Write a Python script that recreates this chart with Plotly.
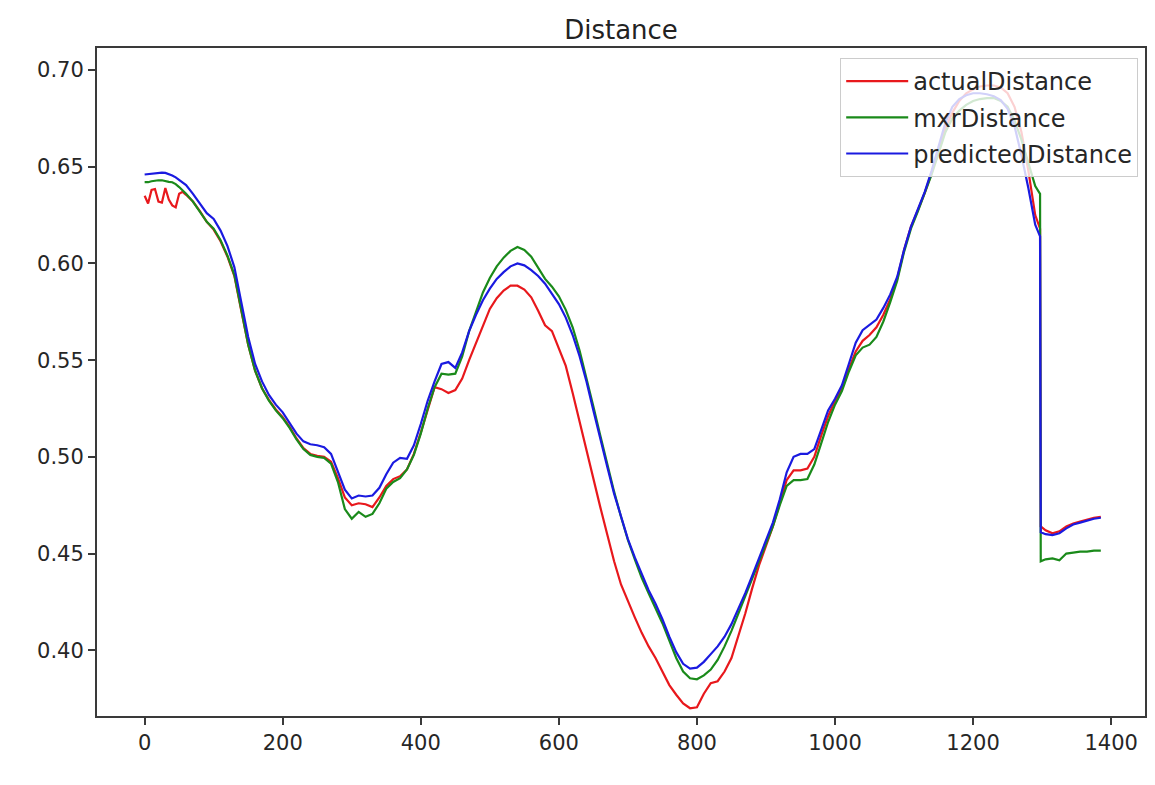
import plotly.graph_objects as go

# sample positions (frame index)
x_start = [0, 5, 10, 15, 20, 25, 30, 35, 40, 45, 50, 55, 60]
x_mid = list(range(70, 1300, 10))
x_drop = [1297, 1298]
x_end = list(range(1305, 1390, 10))
x_vals = x_start + x_mid + x_drop + x_end

actual_distance = [
    0.6350, 0.6310, 0.6380, 0.6385, 0.6320, 0.6315, 0.6390, 0.6330, 0.6300, 0.6290, 0.6360, 0.6370, 0.6355,
    0.6320, 0.6270, 0.6215, 0.6175, 0.6115, 0.6035, 0.5935, 0.5755, 0.5580, 0.5445, 0.5355, 0.5295, 0.5245,
    0.5205, 0.5155, 0.5095, 0.5045, 0.5015, 0.5005, 0.5000, 0.4975, 0.4890, 0.4790,
    0.4750, 0.4760, 0.4755, 0.4740, 0.4790, 0.4850, 0.4885, 0.4900, 0.4935, 0.5015,
    0.5125, 0.5245, 0.5360, 0.5350, 0.5330, 0.5345, 0.5405, 0.5500, 0.5590, 0.5680,
    0.5765, 0.5820, 0.5860, 0.5885, 0.5885, 0.5865, 0.5825, 0.5755, 0.5680, 0.5650,
    0.5560, 0.5470, 0.5330, 0.5180, 0.5030, 0.4880, 0.4740, 0.4600, 0.4460, 0.4340,
    0.4250, 0.4170, 0.4090, 0.4020, 0.3960, 0.3890, 0.3820, 0.3770, 0.3725, 0.3700,
    0.3705, 0.3775, 0.3830, 0.3840, 0.3890, 0.3960, 0.4070, 0.4190, 0.4320, 0.4440,
    0.4540, 0.4640, 0.4760, 0.4880, 0.4930, 0.4930, 0.4940, 0.5000, 0.5110, 0.5210,
    0.5290, 0.5355, 0.5455, 0.5545, 0.5600, 0.5630, 0.5670, 0.5735, 0.5815, 0.5920,
    0.6070, 0.6190, 0.6275, 0.6365, 0.6470, 0.6580, 0.6700, 0.6780, 0.6840, 0.6880,
    0.6900, 0.6915, 0.6920, 0.6920, 0.6910, 0.6880, 0.6810, 0.6680, 0.6480, 0.6250,
    0.6180, 0.4640,
    0.4620, 0.4605, 0.4615, 0.4640, 0.4655, 0.4665, 0.4675, 0.4685, 0.4690,
]

mxr_distance = [
    0.6420, 0.6420, 0.6425, 0.6428, 0.6430, 0.6430, 0.6425, 0.6422, 0.6420, 0.6410, 0.6395, 0.6380, 0.6360,
    0.6320, 0.6270, 0.6215, 0.6180, 0.6120, 0.6040, 0.5940, 0.5760, 0.5580, 0.5445, 0.5355, 0.5290, 0.5240,
    0.5200, 0.5150, 0.5090, 0.5040, 0.5010, 0.5000, 0.4995, 0.4965, 0.4870, 0.4730,
    0.4680, 0.4715, 0.4690, 0.4705, 0.4760, 0.4835, 0.4870, 0.4890, 0.4935, 0.5010,
    0.5120, 0.5250, 0.5360, 0.5430, 0.5425, 0.5430, 0.5520, 0.5650, 0.5750, 0.5850,
    0.5925, 0.5985, 0.6030, 0.6065, 0.6085, 0.6070, 0.6035, 0.5980, 0.5920, 0.5880,
    0.5830, 0.5760, 0.5670, 0.5550, 0.5410, 0.5260, 0.5110, 0.4960, 0.4820, 0.4690,
    0.4570, 0.4470, 0.4375, 0.4295, 0.4220, 0.4140, 0.4050, 0.3960, 0.3890, 0.3855,
    0.3850, 0.3870, 0.3900, 0.3950, 0.4020, 0.4100, 0.4190, 0.4280, 0.4370, 0.4460,
    0.4550, 0.4640, 0.4750, 0.4850, 0.4880, 0.4880, 0.4885, 0.4960, 0.5070, 0.5180,
    0.5270, 0.5340, 0.5440, 0.5525, 0.5565, 0.5580, 0.5620, 0.5700, 0.5800, 0.5910,
    0.6060, 0.6180, 0.6270, 0.6360, 0.6460, 0.6570, 0.6680, 0.6750, 0.6790, 0.6820,
    0.6840, 0.6850, 0.6855, 0.6855, 0.6840, 0.6810, 0.6740, 0.6640, 0.6520, 0.6400,
    0.6360, 0.4460,
    0.4470, 0.4475, 0.4465, 0.4500, 0.4505, 0.4510, 0.4510, 0.4515, 0.4515,
]

predicted_distance = [
    0.6460, 0.6462, 0.6465, 0.6468, 0.6470, 0.6470, 0.6468, 0.6462, 0.6455, 0.6445, 0.6430, 0.6418, 0.6405,
    0.6360, 0.6310, 0.6260, 0.6230, 0.6170, 0.6090, 0.5980, 0.5800, 0.5620, 0.5480, 0.5390, 0.5320, 0.5270,
    0.5230, 0.5175, 0.5120, 0.5080, 0.5065, 0.5060, 0.5050, 0.5015, 0.4925, 0.4830,
    0.4785, 0.4800, 0.4795, 0.4800, 0.4840, 0.4910, 0.4970, 0.4995, 0.4990, 0.5060,
    0.5170, 0.5290, 0.5390, 0.5480, 0.5490, 0.5460, 0.5540, 0.5650, 0.5735, 0.5810,
    0.5870, 0.5920, 0.5955, 0.5985, 0.6000, 0.5990, 0.5965, 0.5935, 0.5895, 0.5840,
    0.5790, 0.5720, 0.5630, 0.5520, 0.5390, 0.5240, 0.5090, 0.4950, 0.4810, 0.4690,
    0.4575, 0.4480, 0.4390, 0.4310, 0.4240, 0.4160, 0.4070, 0.3990, 0.3930, 0.3905,
    0.3910, 0.3940, 0.3980, 0.4020, 0.4070, 0.4135, 0.4215, 0.4295, 0.4385, 0.4475,
    0.4570, 0.4660, 0.4780, 0.4920, 0.5000, 0.5015, 0.5015, 0.5040, 0.5140, 0.5240,
    0.5300, 0.5370, 0.5480, 0.5590, 0.5655, 0.5685, 0.5710, 0.5770, 0.5840, 0.5930,
    0.6070, 0.6190, 0.6280, 0.6370, 0.6480, 0.6600, 0.6730, 0.6810, 0.6850, 0.6870,
    0.6880, 0.6880, 0.6875, 0.6865, 0.6845, 0.6800, 0.6710, 0.6560, 0.6390, 0.6200,
    0.6140, 0.4610,
    0.4600, 0.4595, 0.4605, 0.4630, 0.4650, 0.4660, 0.4670, 0.4680, 0.4685,
]

series_names = ["actualDistance", "mxrDistance", "predictedDistance"]
series_colors = ["#e8181c", "#1a8a1a", "#1a1ae0"]
x_tick_vals = [0, 200, 400, 600, 800, 1000, 1200, 1400]
y_tick_vals = [0.40, 0.45, 0.50, 0.55, 0.60, 0.65, 0.70]

font_family = "DejaVu Sans"
axis_color = "#3a3a3a"

fig = go.Figure()
for i, (name, ys) in enumerate(zip(series_names, [actual_distance, mxr_distance, predicted_distance])):
    fig.add_trace(go.Scatter(
        x=x_vals, y=ys, mode="lines", name=name,
        line=dict(color=series_colors[i], width=2.2),
        legendgroup=name,
    ))

fig.update_layout(
    width=1155, height=785,
    margin=dict(l=97, r=8, t=48, b=69),
    paper_bgcolor="white", plot_bgcolor="white",
    font=dict(family=font_family, color="#262626", size=21),
    title=dict(text="Distance", x=0.5, xref="paper", xanchor="center",
               y=1 - 30 / 785, yref="container", yanchor="middle",
               font=dict(family=font_family, size=26, color="#222222")),
    showlegend=True,
    legend=dict(
        x=0.9935, y=0.985, xanchor="right", yanchor="top",
        bgcolor="rgba(255,255,255,0.8)", bordercolor="#cccccc", borderwidth=1,
        font=dict(family=font_family, size=24, color="#262626"),
        traceorder="grouped", tracegroupgap=2, itemwidth=62,
    ),
)
fig.update_xaxes(
    range=[-69, 1449], tickvals=x_tick_vals, ticks="outside", ticklen=7, tickwidth=1.5,
    tickcolor=axis_color, showline=True, linecolor=axis_color, linewidth=2, mirror=True,
    showgrid=False, zeroline=False, tickfont=dict(size=21),
)
fig.update_yaxes(
    range=[0.366, 0.7114], tickvals=y_tick_vals, tickformat=".2f", ticks="outside", ticklen=7,
    tickwidth=1.5, tickcolor=axis_color, showline=True, linecolor=axis_color, linewidth=2,
    mirror=True, showgrid=False, zeroline=False, tickfont=dict(size=21),
)

fig.write_html("out.html")
